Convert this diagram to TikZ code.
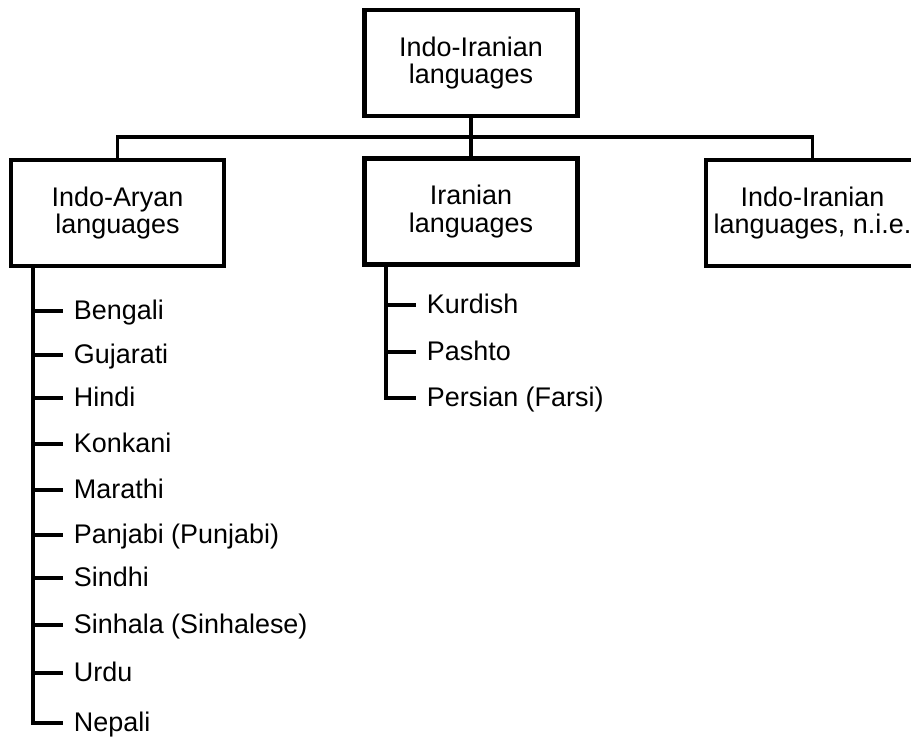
\documentclass[tikz,border=0pt]{standalone}
\usepackage{fontspec}
\setmainfont{Liberation Sans}
\tikzset{
  box/.style        = {draw, line width=3.3pt, minimum width=160pt, minimum height=79.5pt,
                       inner sep=0pt, align=center, font=\fontsize{20.2}{20.5}\selectfont},
  item/.style       = {anchor=west, inner xsep=8pt, inner ysep=0pt, text height=12.6pt,
                       text depth=0pt, font=\fontsize{20.2}{20.5}\selectfont},
  wire/.style       = {line width=3pt},
}

\begin{document}
\begin{tikzpicture}[x=0.75pt,y=-0.75pt]
  \clip (0,0) rectangle (911,739);
  % top of the tree
  \node[box] (root) at (471,62.75) {Indo-Iranian\\languages};
  % branches
  \node[box] (aryan) at (117.5,213) {Indo-Aryan\\languages};
  \node[box] (iran) at (471,211.5) {Iranian\\languages};
  \node[box] (nie) at (812.5,213.25) {Indo-Iranian\\languages, n.i.e.};
  \coordinate (bus) at (0,137);
  \draw[wire] (root.south) -- (iran.north);
  \draw[wire, line width=2.6pt] (aryan.north) -- (aryan.north |- bus) -- (nie.north |- bus) -- (nie.north);
  % indo-aryan languages
  \coordinate (aspine) at (33,0);
  \node[item] (bengali) at (63,311) {Bengali};
  \node[item] (gujarati) at (63,355) {Gujarati};
  \node[item] (hindi) at (63,398) {Hindi};
  \node[item] (konkani) at (63,444) {Konkani};
  \node[item] (marathi) at (63,490) {Marathi};
  \node[item] (panjabi) at (63,535) {Panjabi (Punjabi)};
  \node[item] (sindhi) at (63,578) {Sindhi};
  \node[item] (sinhala) at (63,625) {Sinhala (Sinhalese)};
  \node[item] (urdu) at (63,673) {Urdu};
  \node[item] (nepali) at (63,723) {Nepali};
  \draw[wire] (aryan.south -| aspine) |- (nepali.west);
  \draw[wire] (aspine |- bengali.west) -- (bengali.west);
  \draw[wire] (aspine |- gujarati.west) -- (gujarati.west);
  \draw[wire] (aspine |- hindi.west) -- (hindi.west);
  \draw[wire] (aspine |- konkani.west) -- (konkani.west);
  \draw[wire] (aspine |- marathi.west) -- (marathi.west);
  \draw[wire] (aspine |- panjabi.west) -- (panjabi.west);
  \draw[wire] (aspine |- sindhi.west) -- (sindhi.west);
  \draw[wire] (aspine |- sinhala.west) -- (sinhala.west);
  \draw[wire] (aspine |- urdu.west) -- (urdu.west);
  % iranian languages
  \coordinate (ispine) at (386,0);
  \node[item] (kurdish) at (416,305) {Kurdish};
  \node[item] (pashto) at (416,352) {Pashto};
  \node[item] (persian) at (416,398) {Persian (Farsi)};
  \draw[wire] (iran.south -| ispine) |- (persian.west);
  \draw[wire] (ispine |- kurdish.west) -- (kurdish.west);
  \draw[wire] (ispine |- pashto.west) -- (pashto.west);
\end{tikzpicture}
\end{document}
